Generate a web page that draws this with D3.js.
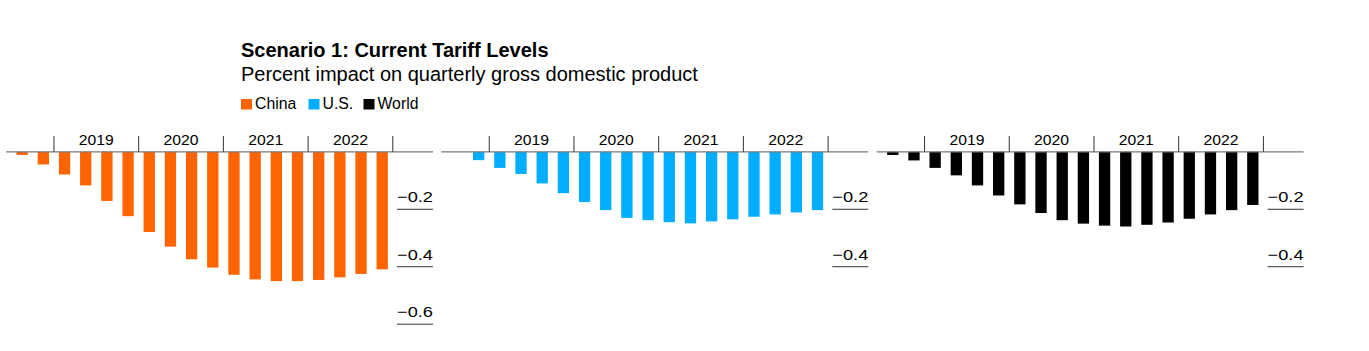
<!DOCTYPE html>
<html>
<head>
<meta charset="utf-8">
<script src="https://cdn.jsdelivr.net/npm/d3@7"></script>
<style>
  html, body { margin: 0; padding: 0; background: #fff; }
  svg { display: block; font-family: "Liberation Sans", Arial, Helvetica, sans-serif; }
</style>
</head>
<body>
<svg id="chart" width="1369" height="351"></svg>
<script>
// ---- data ----
const quarters = ["2018 Q3","2018 Q4",
  "2019 Q1","2019 Q2","2019 Q3","2019 Q4",
  "2020 Q1","2020 Q2","2020 Q3","2020 Q4",
  "2021 Q1","2021 Q2","2021 Q3","2021 Q4",
  "2022 Q1","2022 Q2","2022 Q3","2022 Q4"];
const years = ["2019","2020","2021","2022"];
const chinaValues = [-0.011,-0.044,-0.079,-0.117,-0.171,-0.224,-0.279,-0.330,-0.374,-0.403,-0.428,-0.444,-0.450,-0.450,-0.446,-0.437,-0.425,-0.409];
const usValues    = [0,-0.029,-0.056,-0.077,-0.110,-0.144,-0.175,-0.203,-0.230,-0.238,-0.245,-0.249,-0.242,-0.235,-0.226,-0.218,-0.211,-0.203];
const worldValues = [-0.011,-0.030,-0.056,-0.082,-0.117,-0.152,-0.183,-0.213,-0.238,-0.250,-0.257,-0.260,-0.254,-0.246,-0.233,-0.218,-0.203,-0.185];
const seriesNames = ["China","U.S.","World"];
const chinaTicks = [-0.2,-0.4,-0.6];
const usTicks = [-0.2,-0.4];
const worldTicks = [-0.2,-0.4];
const title = "Scenario 1: Current Tariff Levels";
const subtitle = "Percent impact on quarterly gross domestic product";

const colors = ["#ff6400","#00adff","#000000"];
const panels = [
  {name: seriesNames[0], values: chinaValues, ticks: chinaTicks, color: colors[0]},
  {name: seriesNames[1], values: usValues, ticks: usTicks, color: colors[1]},
  {name: seriesNames[2], values: worldValues, ticks: worldTicks, color: colors[2]}
];

const svg = d3.select("#chart");

// ---- header ----
svg.append("text").attr("x", 241).attr("y", 56.5)
  .attr("font-size", 20).attr("font-weight", "bold").attr("fill", "#000")
  .text(title);
svg.append("text").attr("x", 241).attr("y", 81)
  .attr("font-size", 20).attr("fill", "#000")
  .text(subtitle);

// legend
const legendX = [241, 308.5, 363.5];
seriesNames.forEach((n, i) => {
  const g = svg.append("g").attr("transform", `translate(${legendX[i]},0)`);
  g.append("rect").attr("x", 0).attr("y", 99).attr("width", 11).attr("height", 10.5).attr("fill", colors[i]);
  g.append("text").attr("x", 14).attr("y", 109.3).attr("font-size", 15.8).attr("fill", "#000").text(n);
});

// ---- panels ----
const yScale = d3.scaleLinear().domain([0, -0.6]).range([151.8, 324.2]);
const panelStep = 435.3;

panels.forEach((p, pi) => {
  const x0 = 6 + pi * panelStep;
  const g = svg.append("g");

  const x = d3.scaleBand()
    .domain(quarters)
    .range([x0 + 5.6, x0 + 386.8])
    .paddingInner(0.466)
    .paddingOuter(0.233);
  const step = x.step();
  const half = step * x.paddingInner() / 2;

  // bars
  g.selectAll("rect.bar").data(p.values).join("rect")
    .attr("class", "bar")
    .attr("x", (d, i) => x(quarters[i]))
    .attr("width", x.bandwidth())
    .attr("y", yScale(0))
    .attr("height", d => Math.max(0, yScale(d) - yScale(0)))
    .attr("fill", p.color);

  // baseline
  g.append("line")
    .attr("x1", x0).attr("x2", x0 + 427)
    .attr("y1", yScale(0)).attr("y2", yScale(0))
    .attr("stroke", "#7a7a7a").attr("stroke-width", 1.3);

  // year boundary ticks
  const bounds = years.map(y => x(y + " Q1") - half);
  bounds.push(x("2022 Q4") + x.bandwidth() + half);
  g.selectAll("line.yt").data(bounds).join("line")
    .attr("class", "yt")
    .attr("x1", d => d).attr("x2", d => d)
    .attr("y1", 136).attr("y2", yScale(0))
    .attr("stroke", "#333").attr("stroke-width", 1);

  // year labels
  g.selectAll("text.yl").data(years).join("text")
    .attr("class", "yl")
    .attr("x", (d, i) => (bounds[i] + bounds[i + 1]) / 2 - 17.5)
    .attr("y", 144.8)
    .attr("font-size", 14)
    .attr("textLength", 35)
    .attr("lengthAdjust", "spacingAndGlyphs")
    .attr("fill", "#000")
    .text(d => d);

  // y axis labels with underline
  const fmt = d => "\u2212" + d3.format(".1f")(Math.abs(d));
  const ta = g.selectAll("g.ty").data(p.ticks).join("g").attr("class", "ty");
  ta.append("line")
    .attr("x1", x0 + 391).attr("x2", x0 + 427)
    .attr("y1", d => yScale(d)).attr("y2", d => yScale(d))
    .attr("stroke", "#333").attr("stroke-width", 1);
  ta.append("text")
    .attr("x", x0 + 391)
    .attr("y", d => yScale(d) - 7)
    .attr("font-size", 15)
    .attr("textLength", 36)
    .attr("lengthAdjust", "spacingAndGlyphs")
    .attr("fill", "#000")
    .text(fmt);
});
</script>
</body>
</html>
